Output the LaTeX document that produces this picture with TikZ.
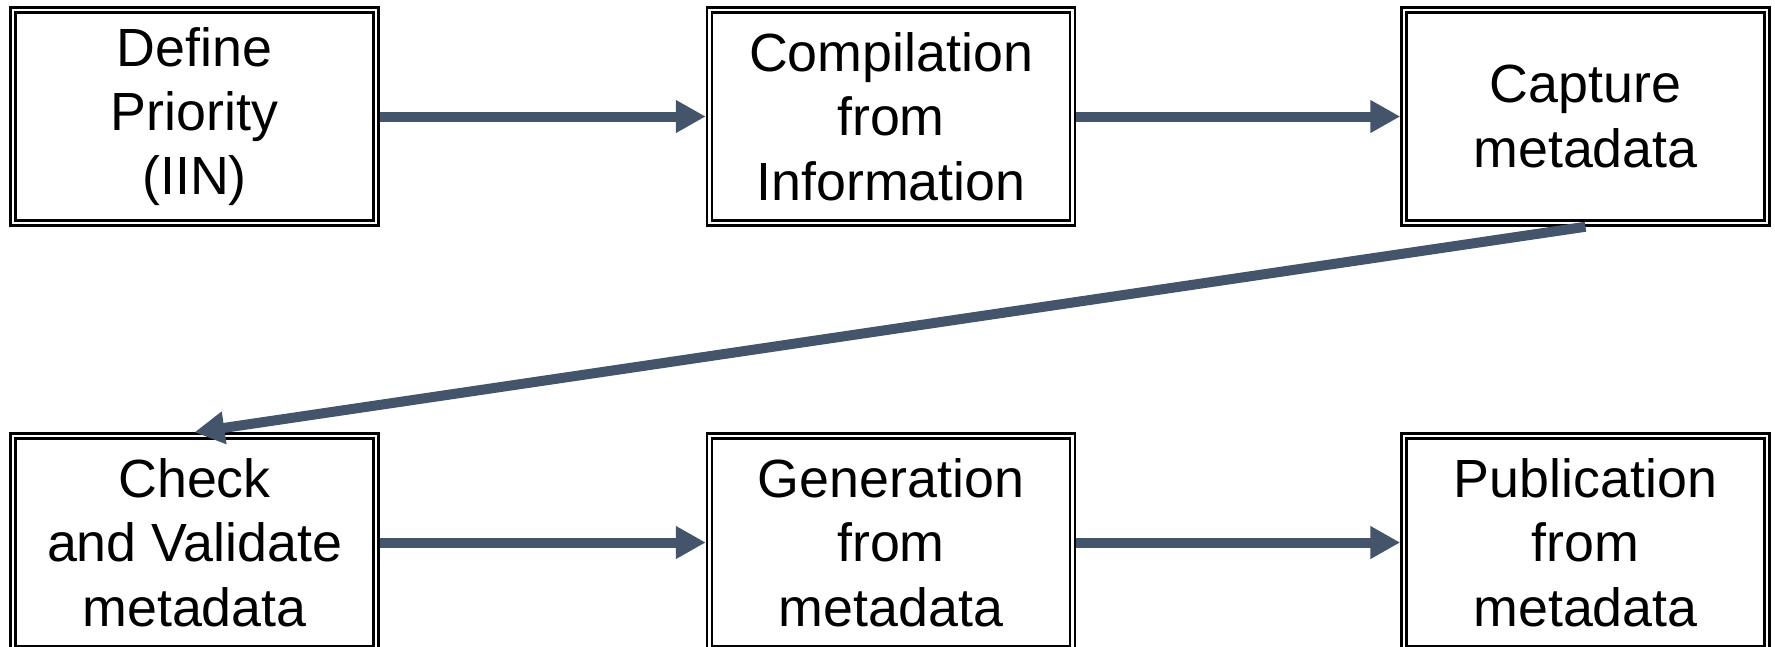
\documentclass[tikz,border=0pt]{standalone}
\usepackage{fontspec}
\setmainfont{Liberation Sans}
\usetikzlibrary{arrows.meta}
\definecolor{arrowslate}{RGB}{68,84,106}

\begin{document}
\begin{tikzpicture}[
    procbox/.style={draw=black, double=white, line width=0.05cm, double distance=0.05cm,
      minimum width=7.26cm, minimum height=4.26cm, inner sep=0pt, outer sep=0.075cm,
      align=center, font=\fontsize{30.6}{36.6}\selectfont},
    flowarrow/.style={draw=arrowslate, line width=0.2cm,
      -{Triangle[length=0.6cm,width=0.62cm]}}]
      \useasboundingbox (0,0) rectangle (35.5,-12.92);
      \node[procbox] (define)   at ( 3.89, -2.33) {Define\\Priority\\(IIN)};
      \node[procbox] (compile)  at (17.82, -2.33) {Compilation\\from\\Information};
      \node[procbox] (capture)  at (31.71, -2.33) {Capture\\metadata};
      \node[procbox] (check)    at ( 3.89,-10.85) {Check\\and Validate\\metadata};
      \node[procbox] (generate) at (17.82,-10.85) {Generation\\from\\metadata};
      \node[procbox] (publish)  at (31.71,-10.85) {Publication\\from\\metadata};
      \draw[flowarrow] (define) -- (compile);
      \draw[flowarrow] (compile) -- (capture);
      \draw[flowarrow] (capture.south) -- (check.north);
      \draw[flowarrow] (check) -- (generate);
      \draw[flowarrow] (generate) -- (publish);
\end{tikzpicture}
\end{document}
